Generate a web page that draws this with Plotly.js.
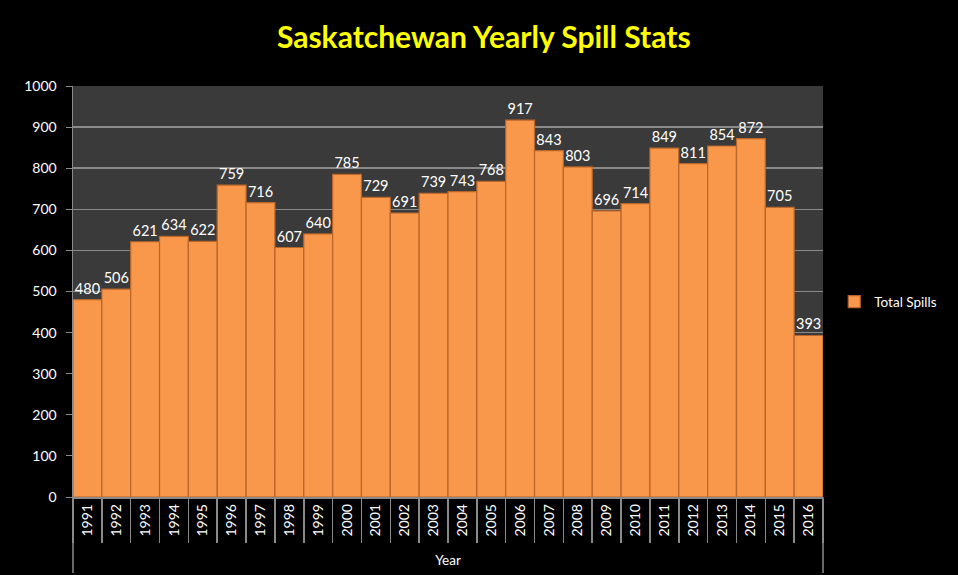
<!DOCTYPE html>
<html>
<head>
<meta charset="utf-8">
<script src="https://cdn.plot.ly/plotly-3.0.1.min.js"></script>
<style>html,body{margin:0;padding:0;background:#000;}</style>
</head>
<body>
<div id="chart" style="width:958px;height:575px;"></div>
<script>
const years = ["1991","1992","1993","1994","1995","1996","1997","1998","1999","2000","2001","2002","2003","2004","2005","2006","2007","2008","2009","2010","2011","2012","2013","2014","2015","2016"];
const totalSpills = [480,506,621,634,622,759,716,607,640,785,729,691,739,743,768,917,843,803,696,714,849,811,854,872,705,393];
const yTicks = [0,100,200,300,400,500,600,700,800,900,1000];

const FONT = "Lato, 'Open Sans', sans-serif";

const trace = {
  type: "bar",
  name: "Total Spills",
  x: years,
  y: totalSpills,
  text: totalSpills.map(String),
  textposition: "outside",
  cliponaxis: false,
  textfont: {color: "#ffffff", size: 14.5, family: FONT},
  marker: {color: "#F9974A", line: {color: "#B8662A", width: 1.2}},
  hoverinfo: "x+y"
};

const layout = {
  width: 958, height: 575,
  margin: {l: 73, r: 135, t: 86, b: 78, autoexpand: false},
  paper_bgcolor: "#000000",
  plot_bgcolor: "#3a3a3a",
  bargap: 0,
  showlegend: true,
  title: {
    text: "<b>Saskatchewan Yearly Spill Stats</b>",
    font: {color: "#FFFF00", size: 30, family: FONT},
    x: 0.505, xanchor: "center", y: 0.935, yanchor: "middle"
  },
  legend: {
    x: 1.015, xanchor: "left", y: 0.475, yanchor: "middle",
    font: {color: "#ffffff", size: 13.5, family: FONT},
    bgcolor: "rgba(0,0,0,0)",
    itemwidth: 30
  },
  xaxis: {
    type: "category",
    tickangle: -90,
    tickfont: {color: "#ffffff", size: 14, family: FONT},
    tickson: "boundaries",
    ticks: "outside",
    ticklen: 44,
    tickcolor: "#8a8a8a",
    tickwidth: 1.5,
    showline: true,
    linecolor: "#8a8a8a",
    linewidth: 1.5,
    showgrid: false,
    title: {text: "Year", font: {color: "#ffffff", size: 13.5, family: FONT}, standoff: 20},
    fixedrange: true
  },
  yaxis: {
    range: [0, 1000],
    tickvals: yTicks,
    tickfont: {color: "#ffffff", size: 14, family: FONT},
    ticks: "outside",
    ticklen: 6,
    ticklabelstandoff: 6,
    tickcolor: "#8a8a8a",
    showline: true,
    linecolor: "#8a8a8a",
    linewidth: 1.5,
    showgrid: true,
    gridcolor: "#8a8a8a",
    gridwidth: 1.5,
    zeroline: false,
    fixedrange: true
  },
  shapes: [
    {type: "line", xref: "paper", yref: "paper", x0: 0, x1: 0, y0: 0, y1: -0.185, line: {color: "#8a8a8a", width: 1.5}},
    {type: "line", xref: "paper", yref: "paper", x0: 1, x1: 1, y0: 0, y1: -0.185, line: {color: "#8a8a8a", width: 1.5}}
  ]
};

Plotly.newPlot("chart", [trace], layout, {displayModeBar: false, staticPlot: true});
</script>
</body>
</html>
